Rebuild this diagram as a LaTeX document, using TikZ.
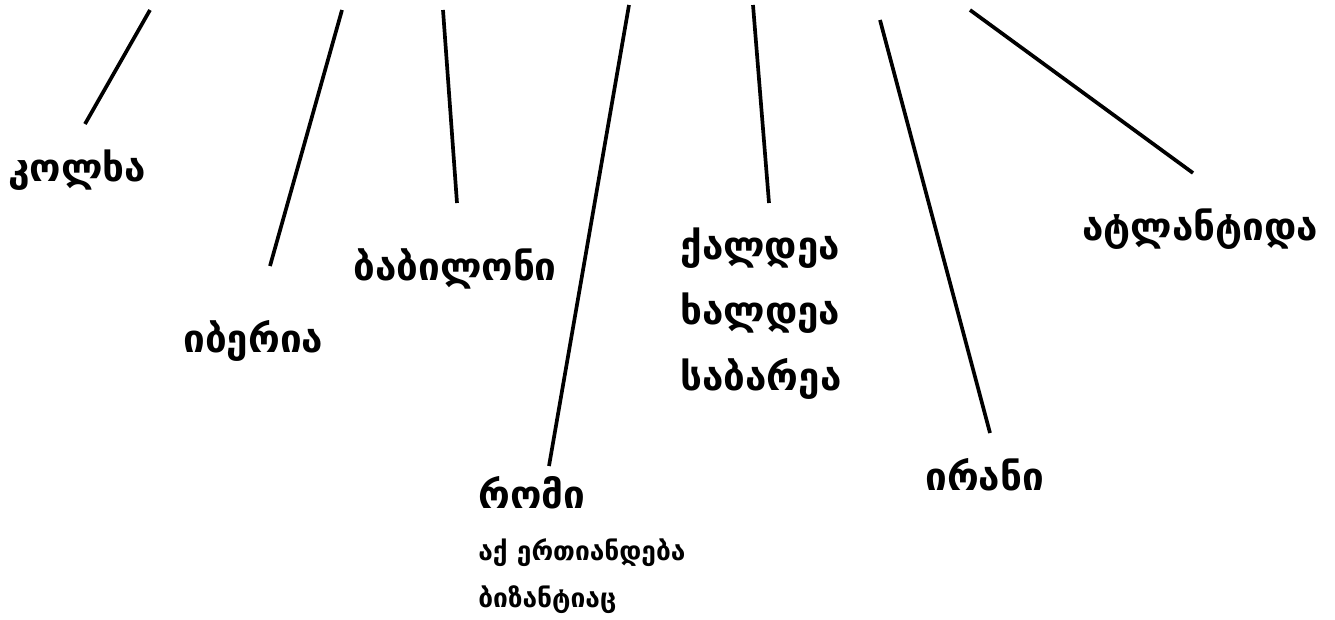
\documentclass[tikz,border=0pt]{standalone}
\usepackage{fontspec}
\newfontfamily\geofont{DejaVu Sans Bold}
\begin{document}
\begin{tikzpicture}[x=0.02cm, y=-0.02cm,
  ray/.style={line width=2.1pt},
  place/.style={anchor=base west, inner sep=0pt, font=\geofont\fontsize{22}{26}\selectfont},
  note/.style={anchor=base west, inner sep=0pt, font=\geofont\fontsize{15}{18}\selectfont}]
  \useasboundingbox (0,0) rectangle (1335,619);

  % Labels
  \node[place] (kolkha) at (8,181) {კოლხა};
  \node[place] (iberia) at (183,352) {იბერია};
  \node[place] (babilon) at (353,280) {ბაბილონი};
  \node[place] (romi) at (478,508) {რომი};
  \node[note] (romi1) at (478,560) {აქ ერთიანდება};
  \node[note] (romi2) at (478,607) {ბიზანტიაც};
  \node[place] (kaldea) at (680,259) {ქალდეა};
  \node[place] (khaldea) at (680,324) {ხალდეა};
  \node[place] (sabarea) at (680,390) {საბარეა};
  \node[place] (irani) at (925,490) {ირანი};
  \node[place] (atlantida) at (1082,240) {ატლანტიდა};

  % Ray ends
  \coordinate (kolkha top) at (150,10);   \coordinate (kolkha end) at (85,124);
  \coordinate (iberia top) at (342,10);   \coordinate (iberia end) at (270,266);
  \coordinate (babilon top) at (443,10);  \coordinate (babilon end) at (457,203);
  \coordinate (romi top) at (629,5);      \coordinate (romi end) at (549,466);
  \coordinate (kaldea top) at (753,5);    \coordinate (kaldea end) at (769,203);
  \coordinate (irani top) at (880,20);    \coordinate (irani end) at (990,433);
  \coordinate (atlantida top) at (970,10); \coordinate (atlantida end) at (1193,173);

  % Rays
  \foreach \n in {kolkha, iberia, babilon, romi, kaldea, irani, atlantida}
    \draw[ray] (\n\space top) -- (\n\space end);
\end{tikzpicture}
\end{document}
